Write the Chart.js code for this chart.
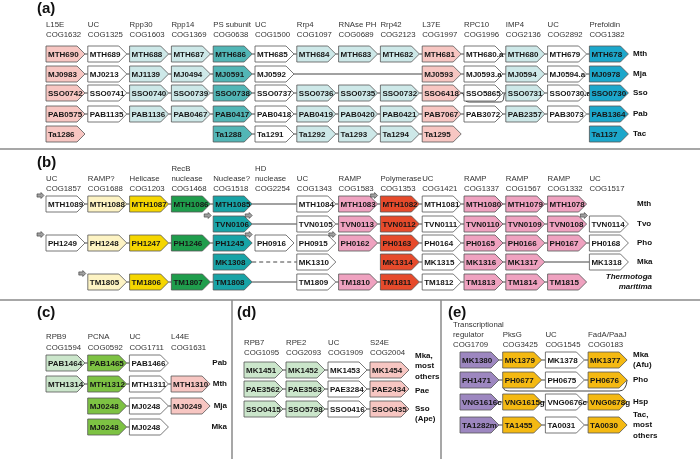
<!DOCTYPE html>
<html>
<head>
<meta charset="utf-8">
<script src="https://cdn.jsdelivr.net/npm/chart.js@4.4.1/dist/chart.umd.min.js"></script>
<style>
  html, body { margin: 0; padding: 0; background: #fff; }
  #wrap { width: 700px; height: 459px; }
</style>
</head>
<body>
<div id="wrap"><canvas id="genes" width="700" height="459"></canvas></div>
<script>
// ---------- data ----------
// (a) ribosomal / exosome / RNase P cluster
const aHeaders = [['L15E','COG1632'],['UC','COG1325'],['Rpp30','COG1603'],['Rpp14','COG1369'],
  ['PS subunit','COG0638'],['UC','COG1500'],['Rrp4','COG1097'],['RNAse PH','COG0689'],['Rrp42','COG2123'],
  ['L37E','COG1997'],['RPC10','COG1996'],['IMP4','COG2136'],['UC','COG2892'],['Prefoldin','COG1382']];
const aGroups = ['ribo','uc','rnp','rnp','psm','uc','rnp','rnp','rnp','ribo','uc','rnp','uc','pfd'];
const aSpecies = [['Mth'],['Mja'],['Sso'],['Pab'],['Tac']];
const aGenes = [
  ['MTH690','MTH689','MTH688','MTH687','MTH686','MTH685','MTH684','MTH683','MTH682','MTH681','MTH680.a','MTH680','MTH679','MTH678'],
  ['MJ0983','MJ0213','MJ1139','MJ0494','MJ0591','MJ0592',null,null,null,'MJ0593','MJ0593.a','MJ0594','MJ0594.a','MJ0978'],
  ['SSO0742','SSO0741','SSO0740','SSO0739','SSO0738','SSO0737','SSO0736','SSO0735','SSO0732','SSO6418','SSO5865','SSO0731','SSO0730.a','SSO0730'],
  ['PAB0575','PAB1135','PAB1136','PAB0467','PAB0417','PAB0418','PAB0419','PAB0420','PAB0421','PAB7067','PAB3072','PAB2357','PAB3073','PAB1364'],
  ['Ta1286',null,null,null,'Ta1288','Ta1291','Ta1292','Ta1293','Ta1294','Ta1295',null,null,null,'Ta1137']
];
const aLongLinks = [[1, 5, 9, 'solid']];
const aLoops = [{ row: 2, from: 9, to: 11, kind: 'bypass' }];

// (b) CRISPR-associated cluster
const bHeaders = [['UC','COG1857'],['RAMP?','COG1688'],['Helicase','COG1203'],['RecB','nuclease','COG1468'],
  ['Nuclease?','COG1518'],['HD','nuclease','COG2254'],['UC','COG1343'],['RAMP','COG1583'],['Polymerase','COG1353'],
  ['UC','COG1421'],['RAMP','COG1337'],['RAMP','COG1567'],['RAMP','COG1332'],['UC','COG1517']];
const bGroups = ['uc','ramp0','hel','recb','nuc','uc','uc','ramp','pol','uc','ramp','ramp','ramp','uc'];
const bSpecies = [['Mth'],['Tvo'],['Pho'],['Mka'],['Thermotoga','maritima']];
const bGenes = [
  ['MTH1089','MTH1088','MTH1087','MTH1086','MTH1085',null,'MTH1084','MTH1083','MTH1082','MTH1081','MTH1080','MTH1079','MTH1078',null],
  [null,null,null,null,'TVN0106',null,'TVN0105','TVN0113','TVN0112','TVN0111','TVN0110','TVN0109','TVN0108','TVN0114'],
  ['PH1249','PH1248','PH1247','PH1246','PH1245','PH0916','PH0915','PH0162','PH0163','PH0164','PH0165','PH0166','PH0167','PH0168'],
  [null,null,null,null,'MK1308',null,'MK1310',null,'MK1314','MK1315','MK1316','MK1317',null,'MK1318'],
  [null,'TM1805','TM1806','TM1807','TM1808',null,'TM1809','TM1810','TM1811','TM1812','TM1813','TM1814','TM1815',null]
];
const bLongLinks = [[0, 4, 6, 'solid'], [1, 4, 6, 'solid'], [3, 4, 6, 'dash'], [3, 11, 13, 'solid'], [4, 4, 6, 'solid']];
const bNoLinks = [[1, 12], [2, 4], [2, 5], [2, 6]];
const bMarkers = [[0, 0, 'start'], [0, 7, 'end'], [1, 4, 'start'], [1, 4, 'end'], [1, 13, 'start'],
  [2, 0, 'start'], [2, 4, 'end'], [2, 6, 'end'], [4, 1, 'start']];

// (c) PCNA
const cHeaders = [['RPB9','COG1594'],['PCNA','COG0592'],['UC','COG1711'],['L44E','COG1631']];
const cGroups = ['rpb','pcna','uc','ribo'];
const cSpecies = [['Pab'],['Mth'],['Mja'],['Mka']];
const cGenes = [
  ['PAB1464','PAB1465','PAB1466',null],
  ['MTH1314','MTH1312','MTH1311','MTH1310'],
  [null,'MJ0248','MJ0248','MJ0249'],
  [null,'MJ0248','MJ0248',null]
];

// (d) RPB7 / S24E
const dHeaders = [['RPB7','COG1095'],['RPE2','COG2093'],['UC','COG1909'],['S24E','COG2004']];
const dGroups = ['rpb','rpb','uc','ribo'];
const dSpecies = [['Mka,','most','others'],['Pae'],['Sso','(Ape)']];
const dGenes = [
  ['MK1451','MK1452','MK1453','MK1454'],
  ['PAE3562','PAE3563','PAE3284','PAE2434'],
  ['SSO0415','SSO5798','SSO0416','SSO0435']
];

// (e) transcriptional regulator / PksG
const eHeaders = [['Transcriptional','regulator','COG1709'],['PksG','COG3425'],['UC','COG1545'],['FadA/PaaJ','COG0183']];
const eGroups = ['treg','pks','uc','pks'];
const eSpecies = [['Mka','(Afu)'],['Pho'],['Hsp'],['Tac,','most','others']];
const eGenes = [
  ['MK1380','MK1379','MK1378','MK1377'],
  ['PH1471','PH0677','PH0675','PH0676'],
  ['VNG1616c','VNG1615g','VNG0676c','VNG0678g'],
  ['TA1282m','TA1455','TA0031','TA0030']
];
const eLoops = [{ row: 1, from: 1, to: 3, kind: 'under' }];

// ---------- styles / layout ----------
const PALETTE = {
  uc: '#ffffff', ribo: '#f7c6c2', rnp: '#cde8e8', psm: '#52b6b6', pfd: '#1ca7cb',
  ramp0: '#fdf3c3', hel: '#f5d600', recb: '#1f9d4c', nuc: '#18a3a6', ramp: '#efa2c0', pol: '#e64a2b',
  rpb: '#cbe6cb', pcna: '#7dc243', treg: '#9d87c0', pks: '#f4b912'
};
const GENE_W = 39, GENE_H = 16, GENE_TIP = 8;
const FONT = '"Liberation Sans", Arial, sans-serif';

const PANELS = [
  { key: 'a', letter: '(a)', headers: aHeaders, groups: aGroups, species: aSpecies, genes: aGenes,
    longLinks: aLongLinks, noLinks: [], loops: aLoops, markers: [] },
  { key: 'b', letter: '(b)', headers: bHeaders, groups: bGroups, species: bSpecies, genes: bGenes,
    longLinks: bLongLinks, noLinks: bNoLinks, loops: [], markers: bMarkers },
  { key: 'c', letter: '(c)', headers: cHeaders, groups: cGroups, species: cSpecies, genes: cGenes,
    longLinks: [], noLinks: [], loops: [], markers: [] },
  { key: 'd', letter: '(d)', headers: dHeaders, groups: dGroups, species: dSpecies, genes: dGenes,
    longLinks: [], noLinks: [], loops: [], markers: [] },
  { key: 'e', letter: '(e)', headers: eHeaders, groups: eGroups, species: eSpecies, genes: eGenes,
    longLinks: [], noLinks: [], loops: eLoops, markers: [] }
];

const LAYOUT = {
  a: { x0: 46, pitch: 41.8, rows: [54, 74, 93, 114, 134], headY: 35, lh: 10, letter: [37, 9],
       spX: [633, 633, 633, 633, 633], spAlign: 'left' },
  b: { x0: 46, pitch: 41.8, rows: [204, 224, 243, 262, 282], headY: 189, lh: 10, letter: [37, 163],
       spX: [637, 637, 637, 637, 652], spAlign: ['left', 'left', 'left', 'left', 'right'], spItalic: [4] },
  c: { x0: 46, pitch: 41.7, rows: [363, 384, 406, 427], headY: 348, lh: 11, letter: [37, 313],
       spX: [227, 227, 227, 227], spAlign: 'right' },
  d: { x0: 244, pitch: 42, rows: [370, 389, 409], headY: 353, lh: 10, letter: [237, 313],
       spX: [415, 415, 415], spAlign: 'left', spDy: [-4, 2, 5] },
  e: { x0: 460, pitch: 42.7, rows: [360, 380, 402, 425], headY: 345, lh: 10, letter: [448, 313],
       spX: [633, 633, 633, 633], spAlign: 'left', headDx: [-7, 0, 0, 0] }
};
const RULES = [[0, 149, 700, 149], [0, 300, 700, 300], [232, 300, 232, 459], [441, 300, 441, 459]];

// ---------- build points ----------
const genePoints = [];
PANELS.forEach(p => {
  const L = LAYOUT[p.key];
  p.genes.forEach((row, r) => row.forEach((g, c) => {
    if (!g) return;
    const x0 = L.x0 + c * L.pitch;
    genePoints.push({ x: x0 + GENE_W / 2, y: L.rows[r], x0: x0, x1: x0 + GENE_W, label: g, group: p.groups[c] });
  }));
});

function colX0(key, c) { return LAYOUT[key].x0 + c * LAYOUT[key].pitch; }

const linkSegs = [];
PANELS.forEach(p => {
  const L = LAYOUT[p.key];
  p.genes.forEach((row, r) => {
    for (let c = 0; c < row.length - 1; c++) {
      if (!row[c] || !row[c + 1]) continue;
      if (p.noLinks.some(n => n[0] === r && n[1] === c)) continue;
      linkSegs.push({ xa: colX0(p.key, c) + GENE_W, xb: colX0(p.key, c + 1), y: L.rows[r], dash: false });
    }
  });
  p.longLinks.forEach(([r, a, b, style]) => {
    linkSegs.push({ xa: colX0(p.key, a) + GENE_W, xb: colX0(p.key, b), y: L.rows[r], dash: style === 'dash' });
  });
});

// ---------- drawing plugin ----------
function arrowPath(ctx, x0, x1, yc, h, tip) {
  ctx.beginPath();
  ctx.moveTo(x0, yc - h / 2);
  ctx.lineTo(x1 - tip, yc - h / 2);
  ctx.lineTo(x1, yc);
  ctx.lineTo(x1 - tip, yc + h / 2);
  ctx.lineTo(x0, yc + h / 2);
  ctx.closePath();
}

const geneMapPlugin = {
  id: 'geneMap',
  afterDatasetsDraw(chart) {
    const ctx = chart.ctx;
    const X = v => chart.scales.x.getPixelForValue(v);
    const Y = v => chart.scales.y.getPixelForValue(v);
    ctx.save();

    // panel rules
    ctx.strokeStyle = '#8a8a8a';
    ctx.lineWidth = 1.5;
    RULES.forEach(([x1, y1, x2, y2]) => {
      ctx.beginPath(); ctx.moveTo(X(x1), Y(y1)); ctx.lineTo(X(x2), Y(y2)); ctx.stroke();
    });

    // links between genes
    ctx.strokeStyle = '#444';
    ctx.lineWidth = 1;
    linkSegs.forEach(s => {
      ctx.setLineDash(s.dash ? [4, 3] : []);
      ctx.beginPath(); ctx.moveTo(X(s.xa), Y(s.y)); ctx.lineTo(X(s.xb), Y(s.y)); ctx.stroke();
    });
    ctx.setLineDash([]);

    // loops
    PANELS.forEach(p => p.loops.forEach(lp => {
      const yc = LAYOUT[p.key].rows[lp.row];
      ctx.beginPath();
      if (lp.kind === 'bypass') {
        const xa = colX0(p.key, lp.from) + GENE_W, xb = colX0(p.key, lp.to);
        ctx.moveTo(X(xa), Y(yc));
        ctx.quadraticCurveTo(X(xa + 3), Y(yc), X(xa + 3), Y(yc + 4));
        ctx.quadraticCurveTo(X(xa + 3), Y(yc + 9), X(xa + 8), Y(yc + 9));
        ctx.lineTo(X(xb - 6), Y(yc + 9));
        ctx.quadraticCurveTo(X(xb - 2), Y(yc + 9), X(xb - 2), Y(yc + 4));
        ctx.quadraticCurveTo(X(xb - 2), Y(yc), X(xb), Y(yc));
      } else {
        const xa = colX0(p.key, lp.from) + 1, xb = colX0(p.key, lp.to) + GENE_W;
        ctx.moveTo(X(xa), Y(yc + GENE_H / 2));
        ctx.quadraticCurveTo(X(xa), Y(yc + 11), X(xa + 6), Y(yc + 11));
        ctx.lineTo(X(xb - 8), Y(yc + 11));
        ctx.quadraticCurveTo(X(xb - 1), Y(yc + 11), X(xb), Y(yc));
      }
      ctx.stroke();
    }));

    // gene arrows
    ctx.lineWidth = 0.8;
    ctx.strokeStyle = '#555';
    ctx.textBaseline = 'middle';
    ctx.textAlign = 'left';
    ctx.font = 'bold 8px ' + FONT;
    chart.data.datasets[0].data.forEach(g => {
      arrowPath(ctx, X(g.x0), X(g.x1), Y(g.y), GENE_H, GENE_TIP);
      ctx.fillStyle = PALETTE[g.group];
      ctx.fill();
      ctx.stroke();
      ctx.fillStyle = '#161616';
      ctx.fillText(g.label, X(g.x0) + 2, Y(g.y) + 0.5);
    });

    // small gray direction markers
    PANELS.forEach(p => p.markers.forEach(([r, c, at]) => {
      const gx0 = colX0(p.key, c);
      const right = at === 'start' ? gx0 - 2 : gx0 + GENE_W;
      const yc = LAYOUT[p.key].rows[r] - 8.5;
      const x = X(right - 7), y = Y(yc);
      ctx.beginPath();
      ctx.moveTo(x, y - 1.6); ctx.lineTo(x + 4, y - 1.6); ctx.lineTo(x + 4, y - 3);
      ctx.lineTo(x + 7, y); ctx.lineTo(x + 4, y + 3); ctx.lineTo(x + 4, y + 1.6);
      ctx.lineTo(x, y + 1.6); ctx.closePath();
      ctx.fillStyle = '#a0a0a0'; ctx.fill();
      ctx.strokeStyle = '#333'; ctx.lineWidth = 0.6; ctx.stroke();
    }));

    // headers, species, panel letters
    PANELS.forEach(p => {
      const L = LAYOUT[p.key];
      ctx.fillStyle = '#333';
      ctx.font = '7.8px ' + FONT;
      ctx.textAlign = 'left';
      p.headers.forEach((lines, c) => {
        const dx = L.headDx ? L.headDx[c] : 0;
        lines.forEach((t, i) => {
          const yy = L.headY - (lines.length - 1 - i) * L.lh;
          ctx.fillText(t, X(colX0(p.key, c) + dx), Y(yy));
        });
      });

      ctx.fillStyle = '#111';
      p.species.forEach((lines, r) => {
        const italic = L.spItalic && L.spItalic.includes(r);
        ctx.font = (italic ? 'italic ' : '') + 'bold 8px ' + FONT;
        ctx.textAlign = Array.isArray(L.spAlign) ? L.spAlign[r] : L.spAlign;
        const dy = L.spDy ? L.spDy[r] : 0;
        const top = L.rows[r] + dy - (lines.length - 1) * 10.5 / 2;
        lines.forEach((t, i) => ctx.fillText(t, X(L.spX[r]), Y(top + i * 10.5)));
      });

      ctx.font = 'bold 15px ' + FONT;
      ctx.textAlign = 'left';
      ctx.fillStyle = '#111';
      ctx.fillText(p.letter, X(L.letter[0]), Y(L.letter[1]));
    });

    ctx.restore();
  }
};

new Chart(document.getElementById('genes'), {
  type: 'scatter',
  data: { datasets: [{ data: genePoints, pointRadius: 0, showLine: false }] },
  options: {
    responsive: false,
    animation: false,
    devicePixelRatio: 1,
    events: [],
    layout: { padding: 0 },
    scales: {
      x: { type: 'linear', min: 0, max: 700, display: false },
      y: { type: 'linear', min: 0, max: 459, reverse: true, display: false }
    },
    plugins: { legend: { display: false }, tooltip: { enabled: false } }
  },
  plugins: [geneMapPlugin]
});
</script>
</body>
</html>
